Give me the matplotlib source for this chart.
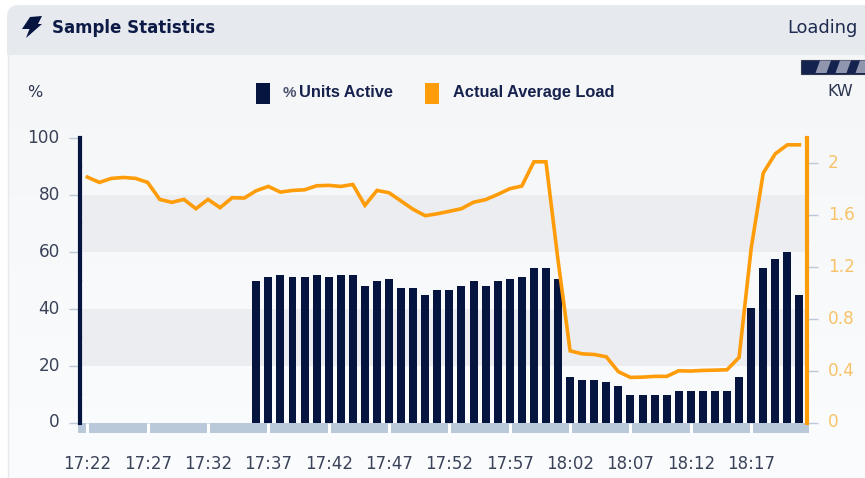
import matplotlib
matplotlib.use("Agg")
import matplotlib.pyplot as plt
import matplotlib.transforms as mtrans
import numpy as np
from matplotlib.patches import FancyBboxPatch, Polygon, Rectangle

# --- Dados ---
minutes = list(range(60))
tick_pos = list(range(0, 60, 5))
tick_labels = ["17:22", "17:27", "17:32", "17:37", "17:42", "17:47",
               "17:52", "17:57", "18:02", "18:07", "18:12", "18:17"]

units_active = [0] * 14 + [
    49.7, 51.2, 52.0, 51.2, 51.2, 52.0, 51.2, 52.0, 52.0, 48.0, 49.7, 50.4, 47.2,
    47.2, 44.9, 46.4, 46.4, 48.0, 49.6, 48.0, 49.6, 50.4, 51.2, 54.2, 54.2, 50.4,
    16.0, 15.0, 15.0, 14.2, 12.7, 9.5, 9.5, 9.5, 9.5, 11.1, 11.1, 11.1, 11.1, 11.1,
    16.0, 40.2, 54.2, 57.4, 59.8, 44.9]

avg_load = [
    1.894, 1.853, 1.884, 1.891, 1.884, 1.853, 1.722, 1.699, 1.722, 1.650,
    1.722, 1.658, 1.735, 1.732, 1.789, 1.822, 1.778, 1.791, 1.796, 1.827,
    1.830, 1.822, 1.837, 1.676, 1.791, 1.773, 1.709, 1.645, 1.596, 1.611,
    1.630, 1.650, 1.700, 1.720, 1.760, 1.804, 1.825, 2.012, 2.012, 1.252,
    0.553, 0.530, 0.525, 0.507, 0.392, 0.348, 0.350, 0.356, 0.356, 0.399,
    0.397, 0.402, 0.404, 0.407, 0.502, 1.342, 1.925, 2.074, 2.143, 2.143]

left_ticks = [0, 20, 40, 60, 80, 100]
right_ticks = [0, 0.4, 0.8, 1.2, 1.6, 2]
right_labels = ["0", "0.4", "0.8", "1.2", "1.6", "2"]

NAVY = "#061440"
ORANGE = "#ff9c0a"
TICK = "#b9cadb"
W, H = 865, 478

fig = plt.figure(figsize=(W / 100, H / 100), dpi=100, facecolor="white")

# --- Moldura do painel, em pixels ---
bg = fig.add_axes([0, 0, 1, 1], zorder=0)
grad = np.linspace(0, 1, 256)[:, None, None]
top_c = np.array([0xf5, 0xf6, 0xf8]) / 255
bot_c = np.array([0xfb, 0xfc, 0xfe]) / 255
bg.imshow(top_c + (bot_c - top_c) * grad, extent=(8, W, H, 55), aspect="auto", zorder=1)
bg.set_xlim(0, W)
bg.set_ylim(H, 0)
bg.axis("off")
bg.plot([7.5, 7.5], [30, H], color="#e6e9ee", lw=1, zorder=2)

# cabecalho: so o canto de cima e redondo
bg.add_patch(FancyBboxPatch((7, 5), W + 40, 40, boxstyle="round,pad=0,rounding_size=12",
                            fc="#e6e9ee", ec="none", zorder=2))
bg.add_patch(Rectangle((7, 25), W, 30, fc="#e6e9ee", ec="none", zorder=2))

bolt = [(30, 17), (42, 16), (38, 24), (42, 24), (26, 38), (29.5, 29), (22, 29)]
bg.add_patch(Polygon(bolt, fc=NAVY, ec="none", zorder=4))
bg.text(52, 27.5, "Sample Statistics", fontsize=12, fontweight="bold", color="#0d1a45",
        va="center", ha="left", zorder=4)
bg.text(787, 27.5, "Loading", fontsize=12.9, color="#1f2b50", va="center", ha="left", zorder=4)

# barra de progresso
bg.add_patch(Rectangle((801, 59.5), 70, 14, fc="#14224f", ec="#333a50", lw=0.8, zorder=4))
for x0 in (815.5, 835.5, 855.5):
    bg.add_patch(Polygon([(x0 + 4.5, 60.5), (x0 + 15.5, 60.5), (x0 + 11, 73), (x0, 73)],
                         fc="#8f96ad", ec="none", zorder=5))

# legenda
bg.add_patch(Rectangle((255.7, 82.7), 14, 21, fc=NAVY, ec="none", zorder=4))
bg.add_patch(Rectangle((425, 82.7), 14.3, 21, fc=ORANGE, ec="none", zorder=4))
legend_font = dict(family="Liberation Sans", fontsize=11.8, fontweight="bold", color="#16224d",
                   va="center", ha="left", zorder=4)
bg.text(283, 92.5, "%", family="Liberation Sans", fontsize=11, fontweight="bold", color="#4a5370",
        va="center", ha="left", zorder=4)
bg.text(299, 92.5, "Units Active", **legend_font)
bg.text(453, 92.5, "Actual Average Load", **legend_font)
bg.text(27, 92, "%", fontsize=11.5, color="#2b3550", va="center", ha="left", zorder=4)
bg.text(827, 91, "KW", fontsize=11.5, color="#2b3550", va="center", ha="left", zorder=4)

# faixa por baixo do eixo x
bg.add_patch(Rectangle((78, 422.5), 731, 10.5, fc="#b9c9d9", ec="none", zorder=4))

# --- Grafico ---
x_left = (80 - 87.3) / 12.07
x_right = (807 - 87.3) / 12.07
ax = fig.add_axes([80 / W, 1 - 422.5 / H, 727 / W, 284.5 / H], zorder=1, facecolor="none")
ax.set_xlim(x_left, x_right)
ax.set_ylim(0, 100)
for lo, hi in ((20, 40), (60, 80)):
    ax.axhspan(lo, hi, color="#ecedf1", lw=0, zorder=0)
ax.bar(minutes, units_active, width=0.66, color=NAVY, zorder=2)

ax.set_xticks(tick_pos)
ax.set_xticklabels(tick_labels, fontsize=12, color="#3a4258")
ax.tick_params(axis="x", length=7.6, width=2.2, color="white", pad=16)
ax.set_yticks(left_ticks)
ax.set_yticklabels([str(v) for v in left_ticks], fontsize=12.2, color="#3a4258")
ax.set_yticks([10, 30, 50, 70, 90], minor=True)
ax.tick_params(axis="y", which="major", length=8, width=1, color=TICK, pad=6.5)
ax.tick_params(axis="y", which="minor", direction="inout", length=3.5, width=1, color=TICK)

for side in ("top", "right", "bottom"):
    ax.spines[side].set_visible(False)
ax.spines["left"].set_color(NAVY)
ax.spines["left"].set_linewidth(3)

ax2 = ax.twinx()
ax2.set_zorder(2)
ax2.set_ylim(0, 100 * 2.85 / 129.8)
ax2.plot(minutes, avg_load, color=ORANGE, linewidth=2.6, solid_joinstyle="miter", zorder=3)
ax2.set_yticks(right_ticks)
ax2.set_yticklabels(right_labels, fontsize=12.2, color="#f7c268")
ax2.set_yticks([0.2, 0.6, 1.0, 1.4, 1.8], minor=True)
ax2.tick_params(axis="y", which="major", length=8, width=1, color=TICK, pad=7)
ax2.tick_params(axis="y", which="minor", direction="inout", length=3.5, width=1, color="#ffd9a0")
for side in ("top", "left", "bottom"):
    ax2.spines[side].set_visible(False)
ax2.spines["right"].set_color(ORANGE)
ax2.spines["right"].set_linewidth(3)

# os numeros dos eixos y ficam um pouco mais acima na referencia
shift = mtrans.ScaledTranslation(0, 1.5 / 72, fig.dpi_scale_trans)
for lab in ax.get_yticklabels() + ax2.get_yticklabels():
    lab.set_transform(lab.get_transform() + shift)

fig.savefig("out.png", dpi=100)
